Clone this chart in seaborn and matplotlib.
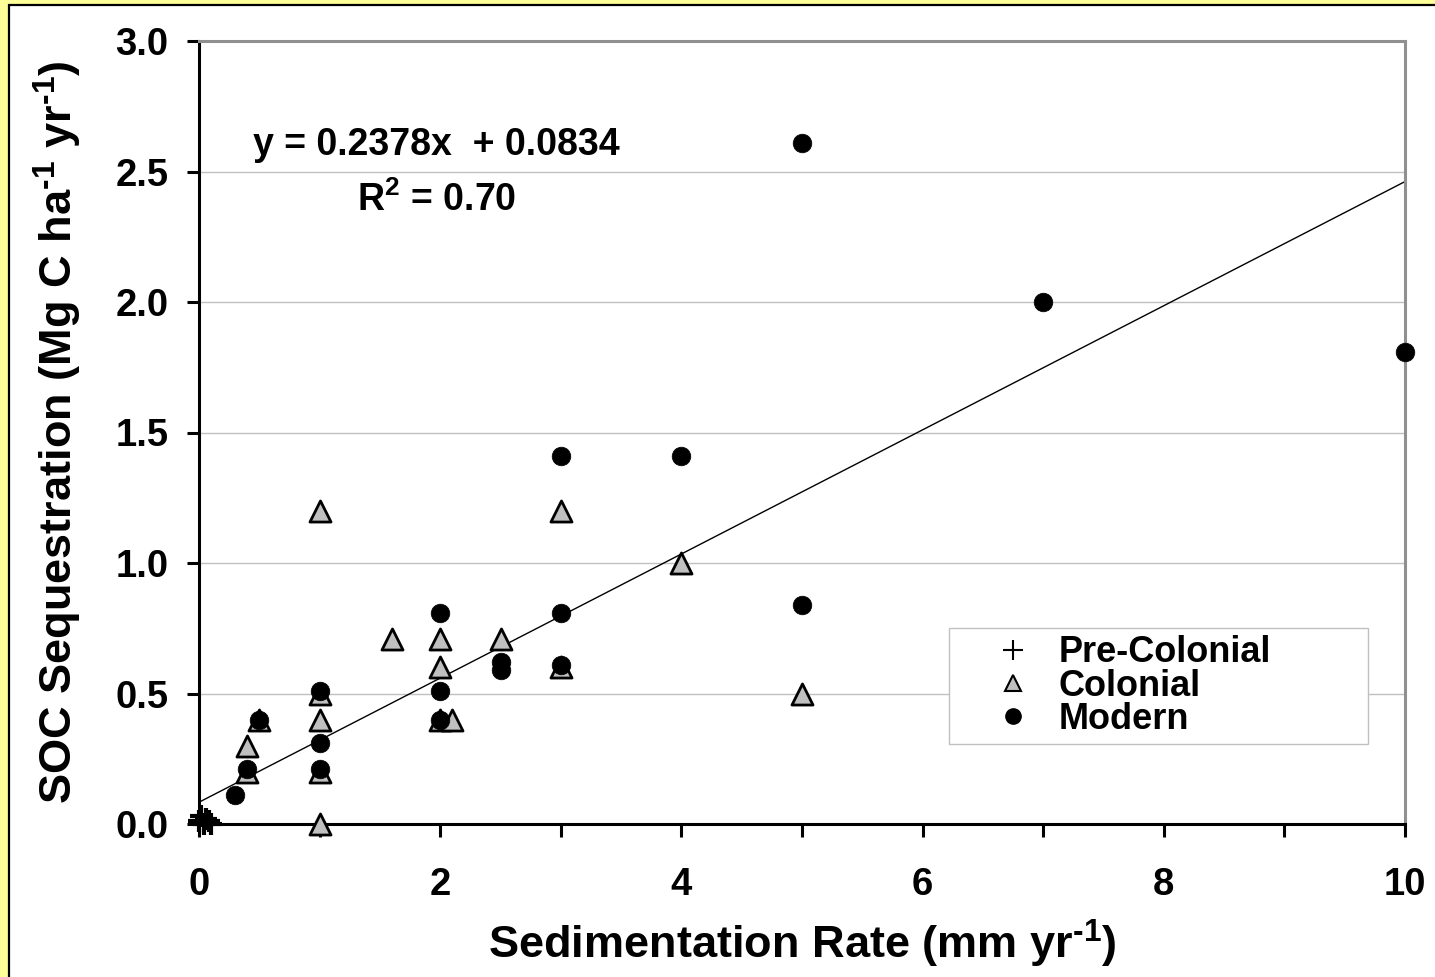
import numpy as np
import pandas as pd
import seaborn as sns
import matplotlib.pyplot as plt
from matplotlib.lines import Line2D
from matplotlib.patches import Rectangle

# valori
pre_x = [0.0, 0.02, 0.04, 0.06, 0.08, 0.1]
pre_y = [0.01, 0.03, 0.0, 0.02, 0.01, 0.0]

col_x = [1, 3, 4, 1.6, 2, 2.5, 2, 3, 5, 1, 1, 0.5, 0.4, 0.4, 1, 1, 2, 2.1]
col_y = [1.2, 1.2, 1.0, 0.71, 0.71, 0.71, 0.6, 0.6, 0.5, 0.5, 0.4, 0.4, 0.3, 0.2, 0.2, 0.0, 0.4, 0.4]

mod_x = [5, 7, 10, 3, 4, 5, 2, 3, 2.5, 2.5, 3, 2, 2, 1, 1, 1, 0.5, 0.4, 0.3]
mod_y = [2.61, 2.0, 1.81, 1.41, 1.41, 0.84, 0.81, 0.81, 0.62, 0.59, 0.61, 0.51, 0.40,
         0.51, 0.31, 0.21, 0.40, 0.21, 0.11]

slope, intercept = 0.2378, 0.0834
r2 = 0.70

x_ticks = list(range(0, 11))
x_labels = [str(t) if t % 2 == 0 else '' for t in x_ticks]
y_ticks = [0.0, 0.5, 1.0, 1.5, 2.0, 2.5, 3.0]

# set up
sns.set_theme(style="white")
plt.rcParams['font.family'] = ['Liberation Sans', 'DejaVu Sans']
plt.rcParams['font.weight'] = 'bold'
plt.rcParams['mathtext.fontset'] = 'custom'
plt.rcParams['mathtext.rm'] = 'Liberation Sans:bold'
plt.rcParams['mathtext.bf'] = 'Liberation Sans:bold'
plt.rcParams['mathtext.default'] = 'bf'
for k in ['text.color', 'axes.labelcolor', 'xtick.color', 'ytick.color']:
    plt.rcParams[k] = 'black'

fig = plt.figure(figsize=(14.35, 9.77), dpi=100, facecolor='#FFFF99')
fig.patches.append(Rectangle((8.5 / 1435, -0.05), 1.2, 1.05 - 5.5 / 977,
                             transform=fig.transFigure, facecolor='white',
                             edgecolor='black', lw=1.6, zorder=-5))
ax = fig.add_axes([199 / 1435, 1 - 824 / 977, 1206 / 1435, 783 / 977])
ax.set_facecolor('white')

# punti
pre = pd.DataFrame({'x': pre_x, 'y': pre_y})
col = pd.DataFrame({'x': col_x, 'y': col_y})
mod = pd.DataFrame({'x': mod_x, 'y': mod_y})

sns.scatterplot(data=col, x='x', y='y', marker='^', s=230, color='#C0C0C0',
                edgecolor='black', linewidth=2.0, ax=ax, zorder=3, clip_on=False)
sns.scatterplot(data=mod, x='x', y='y', marker='o', s=180, color='black',
                edgecolor='black', linewidth=0.5, ax=ax, zorder=4, clip_on=False)
sns.scatterplot(data=pre, x='x', y='y', marker='+', s=260, color='black',
                linewidth=3.0, ax=ax, zorder=5, clip_on=False)

# retta di regressione
x_fit = np.array([0.0, 10.0])
ax.plot(x_fit, slope * x_fit + intercept, color='black', lw=1.0, zorder=2)

ax.text(1.97, 2.60, f'y = {slope:.4f}x  + {intercept:.4f}', ha='center', va='center',
        fontsize=27, fontweight='bold')
ax.text(1.97, 2.39, f'R$^{{2}}$ = {r2:.2f}', ha='center', va='center',
        fontsize=27, fontweight='bold')

# assi
ax.set_xlim(0, 10)
ax.set_ylim(0, 3)
ax.set_xticks(x_ticks)
ax.set_xticklabels(x_labels)
ax.set_yticks(y_ticks)
ax.set_yticklabels([f'{t:.1f}' for t in y_ticks])
ax.yaxis.grid(True, color='#C0C0C0', lw=1.0)
ax.xaxis.grid(False)
ax.set_axisbelow(True)

for side in ['left', 'bottom']:
    ax.spines[side].set_color('black')
    ax.spines[side].set_linewidth(2.2)
for side in ['top', 'right']:
    ax.spines[side].set_color('#909090')
    ax.spines[side].set_linewidth(2.2)

ax.tick_params(axis='both', which='major', direction='out', length=9, width=2.2,
               color='black', labelcolor='black', labelsize=27.5, bottom=True, left=True)
ax.tick_params(axis='x', pad=22)
ax.tick_params(axis='y', pad=13)

ax.set_xlabel(r'Sedimentation Rate (mm yr$^{\text{-1}}$)', fontsize=32.5, fontweight='bold')
ax.set_ylabel(r'SOC Sequestration (Mg C ha$^{\text{-1}}$ yr$^{\text{-1}}$)', fontsize=32.5,
              fontweight='bold')
ax.xaxis.set_label_coords(0.5, -0.12)
ax.yaxis.set_label_coords(-0.095, 0.5)

# legenda
handles = [
    Line2D([], [], ls='none', marker='+', ms=14, mew=1.5, color='black'),
    Line2D([], [], ls='none', marker='^', ms=11, mfc='#C0C0C0', mec='black', mew=1.5),
    Line2D([], [], ls='none', marker='o', ms=11, color='black'),
]
leg = ax.legend(handles, ['Pre-Colonial', 'Colonial', 'Modern'],
                loc='upper left', bbox_to_anchor=(0.622, 0.103, 0.347, 0.147),
                mode='expand', fontsize=26,
                frameon=True, fancybox=False, framealpha=1, edgecolor='#C0C0C0',
                handlelength=3.15, handletextpad=-0.33, labelspacing=-0.05,
                borderpad=0.2, borderaxespad=0)
leg.get_frame().set_linewidth(1.0)
for t in leg.get_texts():
    t.set_fontweight('bold')

plt.savefig('out.png', dpi=100, facecolor=fig.get_facecolor())
